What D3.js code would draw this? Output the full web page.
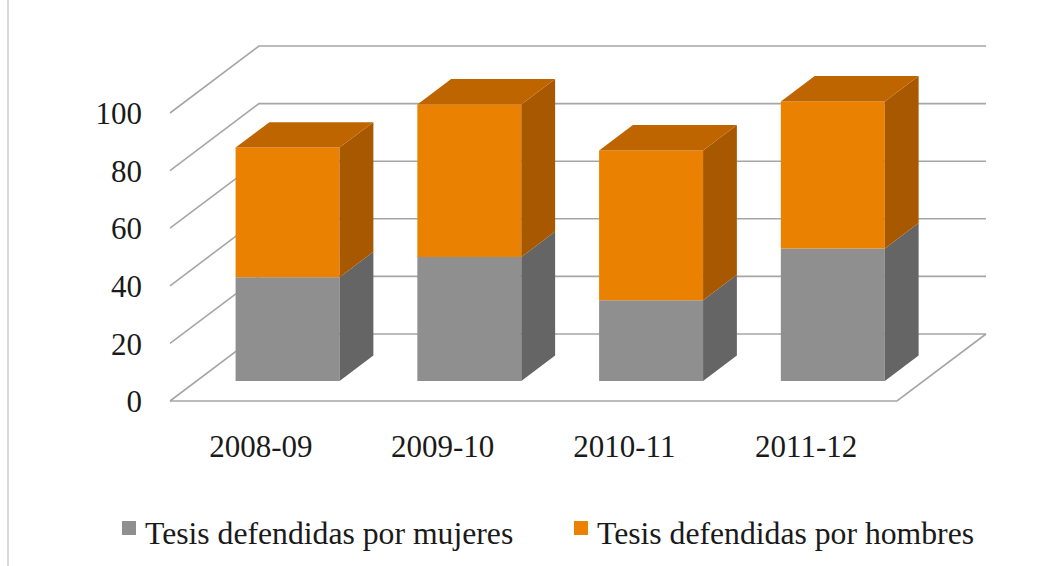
<!DOCTYPE html>
<html>
<head>
<meta charset="utf-8">
<script src="https://cdn.jsdelivr.net/npm/d3@7"></script>
<style>
  body { margin: 0; background: #fff; }
  svg text { font-family: "Liberation Serif", serif; fill: #1a1a1a; }
</style>
</head>
<body>
<div id="chart"></div>
<script>
// data
const years = ["2008-09", "2009-10", "2010-11", "2011-12"];
const mujeres = [36, 43, 28, 46];
const hombres = [45, 53, 52, 51];
const yTicks = [0, 20, 40, 60, 80, 100];
const seriesNames = ["Tesis defendidas por mujeres", "Tesis defendidas por hombres"];

const W = 1064, H = 566;
const svg = d3.select("#chart").append("svg")
  .attr("width", W).attr("height", H);

// front plane scales, plus a depth offset for the 3d look
const x = d3.scaleBand().domain(years).range([170, 897])
  .paddingInner(0.428).paddingOuter(0.214);
const xCat = d3.scaleBand().domain(years).range([170, 897]);
const y = d3.scaleLinear().domain([0, 100]).range([401, 113]);
const DX = 89, DY = -67;          // full floor depth
const f0 = 0.3, f1 = 0.68;        // bar front / back depth

const P = (px, v, f) => [px + f * DX, y(v) + f * DY];
const poly = pts => pts.map(p => p.join(",")).join(" ");

// thin border at left
svg.append("line").attr("x1", 8).attr("x2", 8).attr("y1", 0).attr("y2", H)
  .attr("stroke", "#cfcfcf").attr("stroke-width", 1.5);

const grid = svg.append("g").attr("stroke", "#a6a6a6").attr("stroke-width", 1.6).attr("fill", "none");
const x0 = xCat.range()[0], x1 = xCat.range()[1];

yTicks.forEach(t => {
  // side wall diagonal + back wall line
  grid.append("polyline")
    .attr("points", poly([P(x0, t, 0), P(x0, t, 1), P(x1, t, 1)]));
});
// floor front edge and right edge
grid.append("polyline")
  .attr("points", poly([P(x0, 0, 0), P(x1, 0, 0), P(x1, 0, 1)]));

// y labels
svg.append("g").selectAll("text").data(yTicks).join("text")
  .attr("x", 142).attr("y", d => y(d) + 4)
  .attr("text-anchor", "end").attr("dominant-baseline", "middle")
  .style("font-size", "31px").text(d => d);

// stacked 3d bars
const colors = [
  { front: "#8f8f8f", side: "#656565", top: "#7a7a7a" },
  { front: "#ea8100", side: "#a85900", top: "#bf6500" }
];
const stacks = years.map((yr, i) => {
  const segs = [[0, mujeres[i]], [mujeres[i], mujeres[i] + hombres[i]]];
  return { yr, segs };
});

const bars = svg.append("g");
stacks.forEach(s => {
  const bx0 = x(s.yr), bx1 = x(s.yr) + x.bandwidth();
  s.segs.forEach((seg, k) => {
    const c = colors[k];
    const [lo, hi] = seg;
    const g = bars.append("g");
    // front face
    g.append("polygon").attr("fill", c.front)
      .attr("points", poly([P(bx0, lo, f0), P(bx1, lo, f0), P(bx1, hi, f0), P(bx0, hi, f0)]));
    // right side
    g.append("polygon").attr("fill", c.side)
      .attr("points", poly([P(bx1, lo, f0), P(bx1, lo, f1), P(bx1, hi, f1), P(bx1, hi, f0)]));
    // top (only visible for the upper segment)
    if (k === s.segs.length - 1) {
      g.append("polygon").attr("fill", c.top)
        .attr("points", poly([P(bx0, hi, f0), P(bx1, hi, f0), P(bx1, hi, f1), P(bx0, hi, f1)]));
    }
  });
});

// category labels
svg.append("g").selectAll("text").data(years).join("text")
  .attr("x", d => xCat(d) + xCat.bandwidth() / 2).attr("y", 450)
  .attr("text-anchor", "middle").attr("dominant-baseline", "middle")
  .style("font-size", "31px").text(d => d);

// legend
const legendX = [122, 574];
const legend = svg.append("g");
seriesNames.forEach((name, i) => {
  const row = legend.append("g").attr("transform", `translate(${legendX[i]}, 0)`);
  row.append("rect").attr("x", 0).attr("y", 521).attr("width", 14).attr("height", 14)
    .attr("fill", colors[i].front);
  row.append("text").attr("x", 23).attr("y", 544)
    .style("font-size", "31.7px").text(name);
});
</script>
</body>
</html>
